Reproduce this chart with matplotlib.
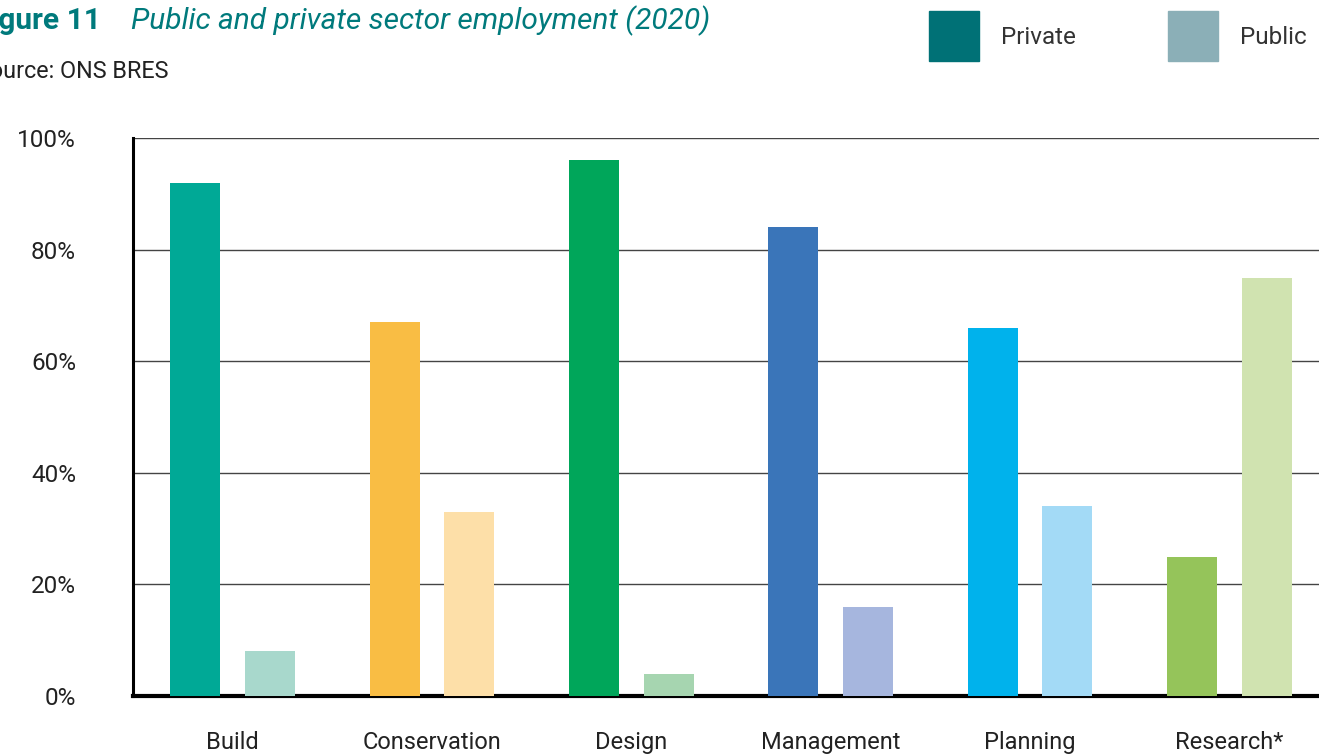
import matplotlib
matplotlib.use("Agg")
import matplotlib.pyplot as plt
from matplotlib.patches import Rectangle
import numpy as np

plt.rcParams["font.family"] = ["Roboto", "DejaVu Sans"]

# Share of employment by sector, 2020 (%)
categories = ["Build", "Conservation", "Design", "Management", "Planning", "Research*"]
private = [92, 67, 96, 84, 66, 25]
public = [8, 33, 4, 16, 34, 75]

private_colors = ["#00A996", "#F9BD44", "#00A65A", "#3A75B9", "#00B2EC", "#95C45A"]
public_colors = ["#A8D8CC", "#FDDFA8", "#A6D5B0", "#A6B6DE", "#A3DAF6", "#D0E3B0"]

legend_labels = ["Private", "Public"]
legend_colors = ["#007176", "#8BAFB7"]

W, H = 1319, 756
fig = plt.figure(figsize=(W / 100, H / 100), dpi=100)

# axes run a little past the right edge of the canvas
ax = fig.add_axes([133 / W, 60 / H, (1329 - 133) / W, 558 / H])

x = np.arange(len(categories))
offset = 0.1875
width = 0.25
ax.bar(x - offset, private, width, color=private_colors, zorder=3)
ax.bar(x + offset, public, width, color=public_colors, zorder=3)

ax.set_xlim(-0.5, len(categories) - 0.5)
ax.set_ylim(0, 100)
ax.set_yticks(range(0, 101, 20))
ax.set_yticklabels([f"{v}%" for v in range(0, 101, 20)])
ax.set_xticks(x)
ax.set_xticklabels(categories)
ax.tick_params(axis="y", length=0, pad=41, labelsize=17.5, labelcolor="#222222")
ax.tick_params(axis="x", length=0, pad=25, labelsize=17, labelcolor="#222222")

ax.grid(axis="y", color="#444444", linewidth=1, zorder=0)
for side in ["top", "right"]:
    ax.spines[side].set_visible(False)
ax.spines["left"].set_linewidth(2.2)
ax.spines["bottom"].set_linewidth(3)
ax.spines["left"].set_color("black")
ax.spines["bottom"].set_color("black")

# heading, partly cut off at the left edge
teal = "#007A7C"
fig.text(101 / W, 1 - 21 / H, "Figure 11", ha="right", va="center",
         fontsize=21.5, fontweight="bold", color=teal)
fig.text(131 / W, 1 - 21 / H, "Public and private sector employment (2020)",
         ha="left", va="center", fontsize=21.5, fontstyle="italic", color=teal)
fig.text(168 / W, 1 - 72 / H, "Source: ONS BRES", ha="right", va="center",
         fontsize=16.8, color="#222222")

# legend
for (px, tx), label, color in zip([(929, 1001), (1168, 1240)], legend_labels, legend_colors):
    fig.add_artist(Rectangle((px / W, 1 - 61 / H), 50 / W, 50 / H,
                             transform=fig.transFigure, color=color))
    fig.text(tx / W, 1 - 38 / H, label, ha="left", va="center",
             fontsize=17.5, color="#333333")

fig.savefig("out.png", dpi=100)
